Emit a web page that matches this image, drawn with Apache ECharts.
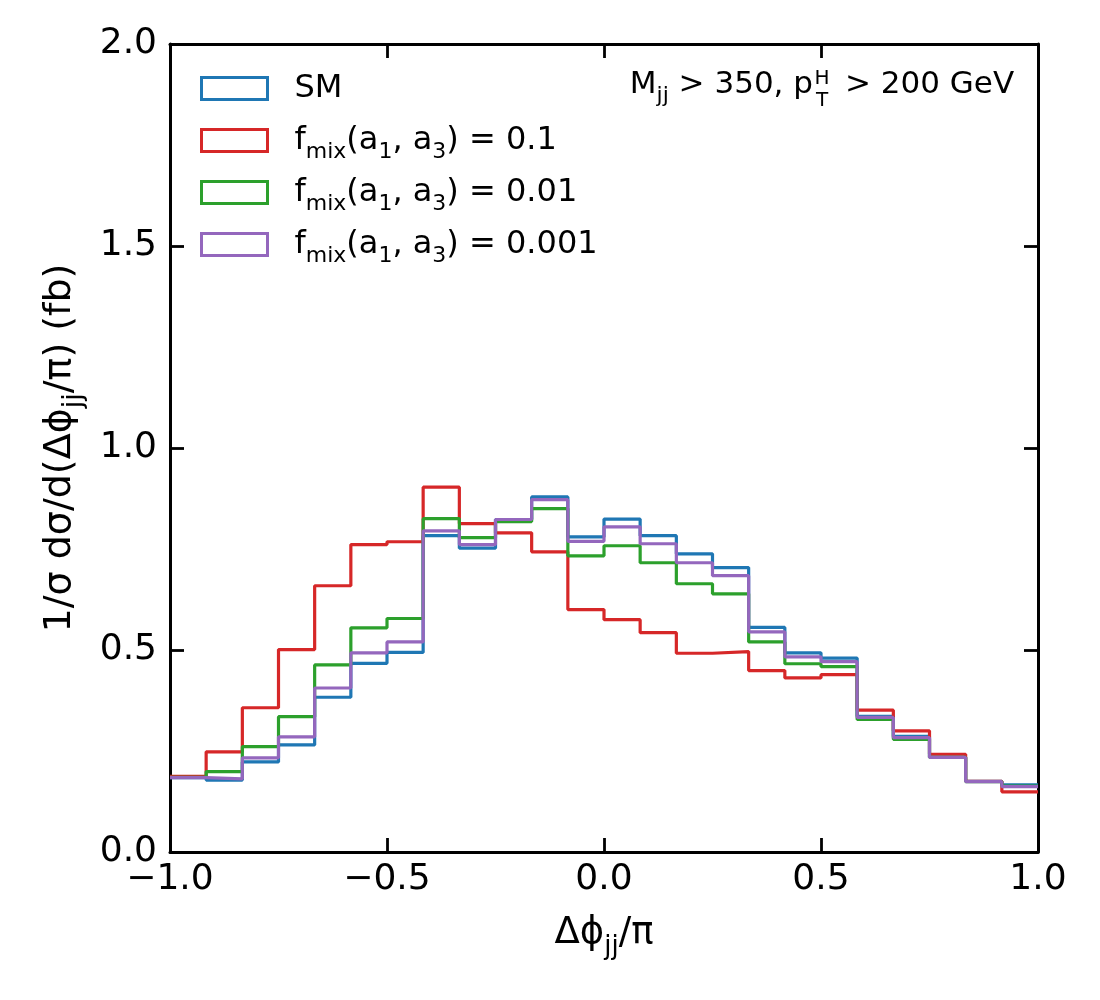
<!DOCTYPE html>
<html><head><meta charset="utf-8">
<script src="https://cdn.jsdelivr.net/npm/echarts@6/dist/echarts.min.js"></script>
<style>html,body{margin:0;padding:0;background:#fff}#c{width:1100px;height:1000px}</style>
</head><body><div id="c"></div>
<script>
const binEdges = [-1, -0.9167, -0.8333, -0.75, -0.6667, -0.5833, -0.5, -0.4167, -0.3333, -0.25, -0.1667, -0.0833, 0, 0.0833, 0.1667, 0.25, 0.3333, 0.4167, 0.5, 0.5833, 0.6667, 0.75, 0.8333, 0.9167, 1];
const smValues = [0.184,0.178,0.223,0.265,0.383,0.467,0.494,0.783,0.752,0.823,0.879,0.780,0.824,0.783,0.738,0.704,0.556,0.493,0.480,0.336,0.286,0.235,0.175,0.166];
const mix01Values = [0.187,0.248,0.357,0.501,0.659,0.761,0.768,0.903,0.813,0.790,0.743,0.600,0.575,0.543,0.492,0.496,0.449,0.431,0.439,0.351,0.300,0.242,0.175,0.149];
const mix001Values = [0.185,0.199,0.261,0.335,0.463,0.555,0.578,0.825,0.778,0.818,0.850,0.733,0.758,0.716,0.664,0.639,0.520,0.466,0.459,0.328,0.279,0.234,0.174,0.163];
const mix0001Values = [0.184,0.181,0.233,0.285,0.406,0.493,0.520,0.795,0.761,0.823,0.872,0.769,0.805,0.763,0.716,0.684,0.545,0.483,0.471,0.333,0.283,0.234,0.174,0.162];
const seriesNames = ['SM', 'fmix01', 'fmix001', 'fmix0001'];
const seriesColors = ['#1f77b4', '#d62728', '#2ca02c', '#9467bd'];
const legendLabels = {
  'SM': '{g|}{b|SM}{s| }',
  'fmix01': '{g|}{b|f}{s|mix}{b|(a}{s|1}{b|, a}{s|3}{b|) = 0.1}',
  'fmix001': '{g|}{b|f}{s|mix}{b|(a}{s|1}{b|, a}{s|3}{b|) = 0.01}',
  'fmix0001': '{g|}{b|f}{s|mix}{b|(a}{s|1}{b|, a}{s|3}{b|) = 0.001}'
};
const xTicks = [-1, -0.5, 0, 0.5, 1];
const yTicks = [0, 0.5, 1, 1.5, 2];

const FONT = 'DejaVu Sans';
function stepData(vals) {
  const d = [];
  for (let k = 0; k < vals.length; k++) d.push([binEdges[k], vals[k]]);
  d.push([binEdges[binEdges.length - 1], vals[vals.length - 1]]);
  return d;
}
function fmt(v) { return (v < 0 ? '\u2212' : '') + Math.abs(v).toFixed(1); }

function richSet(base, sub) {
  return {
    g: {width: 22, fontSize: base},
    b: {fontFamily: FONT, fontSize: base, lineHeight: Math.round(base * 1.15), color: '#000', verticalAlign: 'middle'},
    s: {fontFamily: FONT, fontSize: sub, lineHeight: sub, padding: [Math.round(base * 0.72), 0, 0, 0], color: '#000', verticalAlign: 'middle'}
  };
}

const chart = echarts.init(document.getElementById('c'), null, {renderer: 'canvas'});
const axisLine = {show: true, onZero: false, lineStyle: {color: '#000', width: 3}};
const tick = {show: true, inside: true, length: 14, lineStyle: {color: '#000', width: 2.8}};
const dataLists = [smValues, mix01Values, mix001Values, mix0001Values];

chart.setOption({
  animation: false,
  backgroundColor: '#fff',
  grid: {left: 170, right: 62, top: 44, bottom: 148, containLabel: false},
  xAxis: [{
    type: 'value', min: xTicks[0], max: xTicks[xTicks.length - 1], interval: 0.5,
    axisLine: axisLine, axisTick: tick, splitLine: {show: false},
    axisLabel: {formatter: fmt, fontFamily: FONT, fontSize: 36, color: '#000', margin: 10},
    name: '{b|\u0394\u03d5}{s|jj}{b|/\u03c0}', nameLocation: 'middle', nameGap: 60,
    nameTextStyle: {rich: richSet(37, 26)}
  }, {
    type: 'value', position: 'top', min: -1, max: 1, interval: 0.5,
    axisLine: axisLine, axisTick: tick, axisLabel: {show: false}, splitLine: {show: false}
  }],
  yAxis: [{
    type: 'value', min: yTicks[0], max: yTicks[yTicks.length - 1], interval: 0.5,
    axisLine: axisLine, axisTick: tick, splitLine: {show: false},
    axisLabel: {formatter: fmt, fontFamily: FONT, fontSize: 36, color: '#000', margin: 13},
    name: '{b|1/\u03c3 d\u03c3/d(\u0394\u03d5}{s|jj}{b|/\u03c0) (fb)}', nameLocation: 'middle', nameGap: 88,
    nameTextStyle: {rich: richSet(38, 27)}
  }, {
    type: 'value', position: 'right', min: 0, max: 2, interval: 0.5,
    axisLine: axisLine, axisTick: tick, axisLabel: {show: false}, splitLine: {show: false}
  }],
  legend: {
    orient: 'vertical', left: 200, top: 66, padding: 0, itemGap: 7,
    itemWidth: 66, itemHeight: 22,
    data: seriesNames.map((n, i) => ({name: n, icon: 'rect', itemStyle: {color: 'rgba(0,0,0,0)', borderColor: seriesColors[i], borderWidth: 3}})),
    formatter: n => legendLabels[n],
    textStyle: {rich: richSet(32, 22)}
  },
  graphic: [
    {type: 'text', x: 813, y: 85, style: {text: '{b|M}{s|jj}{b| > 350, p}', align: 'right', verticalAlign: 'middle', rich: richSet(31, 22)}},
    {type: 'text', x: 822, y: 79, style: {text: 'H', fontFamily: FONT, fontSize: 20, fill: '#000', align: 'center', verticalAlign: 'middle'}},
    {type: 'text', x: 822, y: 101, style: {text: 'T', fontFamily: FONT, fontSize: 20, fill: '#000', align: 'center', verticalAlign: 'middle'}},
    {type: 'text', x: 845, y: 85, style: {text: '> 200 GeV', fontFamily: FONT, fontSize: 31, fill: '#000', align: 'left', verticalAlign: 'middle'}}
  ],
  series: seriesNames.map((n, i) => ({
    name: n, type: 'line', step: 'end', showSymbol: false, symbol: 'none',
    data: stepData(dataLists[i]),
    lineStyle: {color: seriesColors[i], width: 3.2}, itemStyle: {color: seriesColors[i]},
    z: 2 + i
  }))
});
</script></body></html>
